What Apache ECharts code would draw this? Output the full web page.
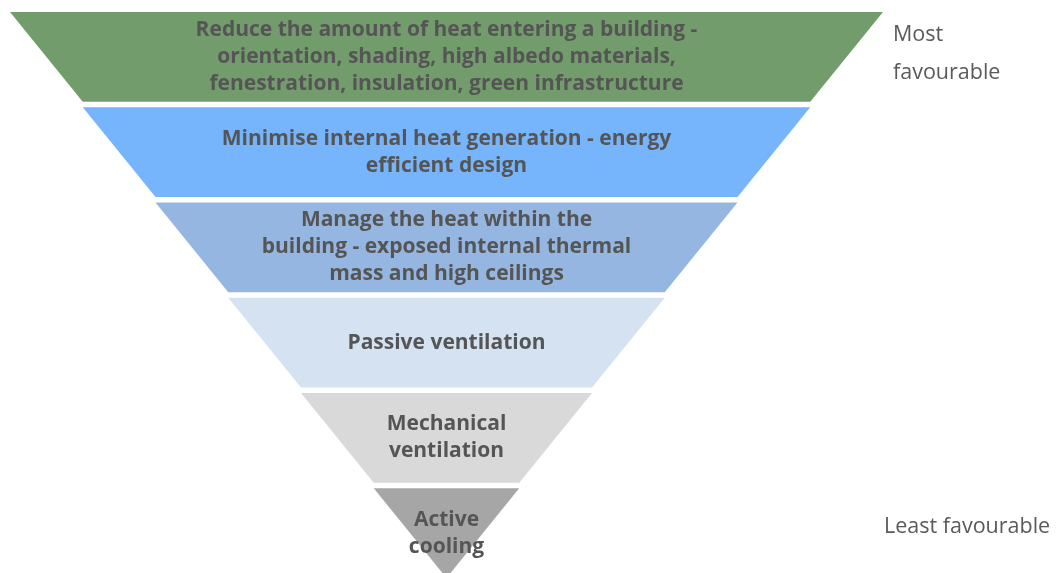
<!DOCTYPE html>
<html>
<head>
<meta charset="utf-8">
<script src="https://cdn.jsdelivr.net/npm/echarts@6/dist/echarts.min.js"></script>
<style>
html,body{margin:0;padding:0;background:#fff;}
#chart{width:1057px;height:573px;}
</style>
</head>
<body>
<div id="chart"></div>
<script>
const categories = [
  "Reduce the amount of heat entering a building -\norientation, shading, high albedo materials,\nfenestration, insulation, green infrastructure",
  "Minimise internal heat generation - energy\nefficient design",
  "Manage the heat within the\nbuilding - exposed internal thermal\nmass and high ceilings",
  "Passive ventilation",
  "Mechanical\nventilation",
  "Active\ncooling"
];
const values = [6, 5, 4, 3, 2, 1];
const colors = ["#739c6c", "#76b5fc", "#95b6e0", "#d5e2f2", "#d9d9d9", "#a6a6a6"];
const sideLabels = ["Most\nfavourable", "Least favourable"];

const chart = echarts.init(document.getElementById('chart'), null, {renderer: 'canvas'});
const FONT = '"Open Sans", "Noto Sans", sans-serif';
chart.setOption({
  animation: false,
  backgroundColor: '#ffffff',
  title: [
    { text: sideLabels[0], left: 893, top: 16, padding: 0,
      textStyle: { fontFamily: FONT, fontSize: 21.5, fontWeight: 'normal', color: '#5a5a5a', lineHeight: 38 } },
    { text: sideLabels[1], left: 884, top: 512, padding: 0,
      textStyle: { fontFamily: FONT, fontSize: 21.5, fontWeight: 'normal', color: '#5a5a5a', lineHeight: 30 } }
  ],
  series: [{
    type: 'funnel',
    left: 10,
    top: 12,
    width: 873,
    height: 566,
    min: 0,
    max: 6,
    minSize: '0%',
    maxSize: '100%',
    sort: 'descending',
    gap: 5.5,
    label: {
      show: true,
      position: 'inside',
      fontFamily: FONT,
      fontSize: 21,
      fontWeight: 'bold',
      color: '#555555',
      lineHeight: 27,
      align: 'center',
      offset: [0, 1]
    },
    labelLine: { show: false },
    itemStyle: { borderWidth: 0 },
    emphasis: { disabled: true },
    data: categories.map((c, i) => ({
      name: c, value: values[i], itemStyle: { color: colors[i] }
    }))
  }]
});
</script>
</body>
</html>
